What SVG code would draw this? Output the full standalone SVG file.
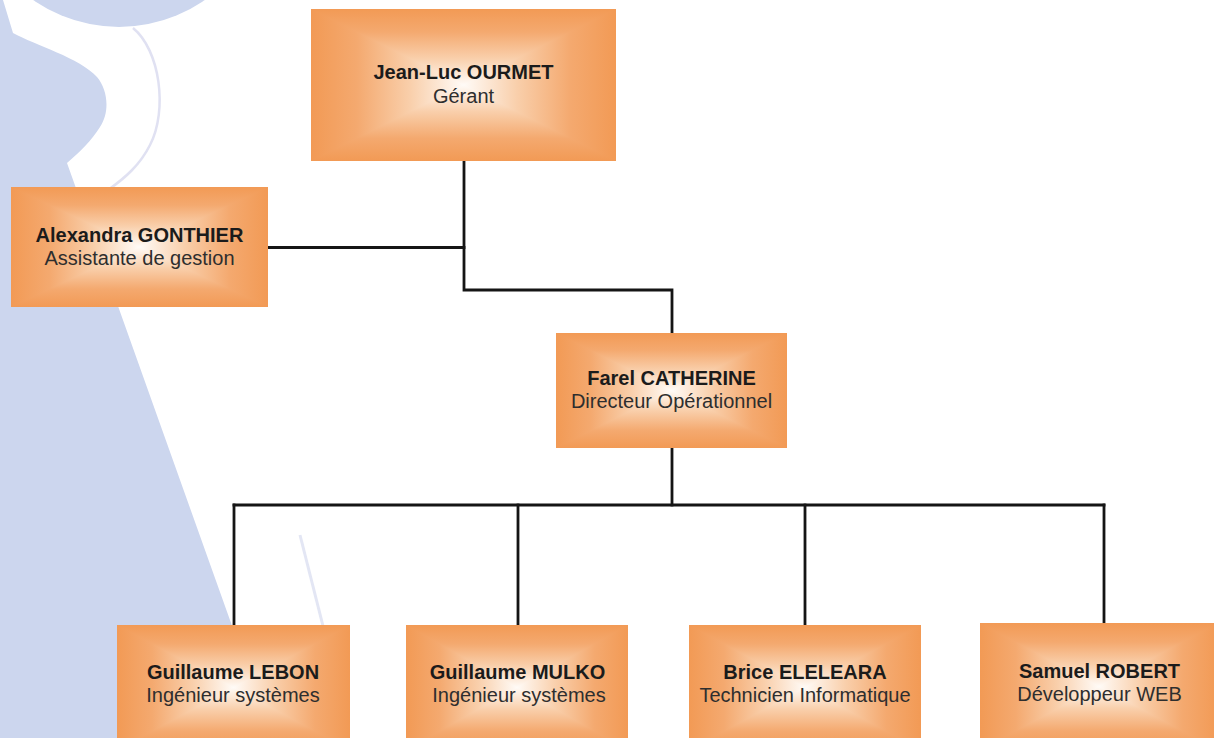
<svg xmlns="http://www.w3.org/2000/svg" xmlns:xlink="http://www.w3.org/1999/xlink" width="1214" height="738" viewBox="0 0 1214 738">
<style>
.name{font-family:"Liberation Sans",Arial,sans-serif;font-size:20px;font-weight:bold;fill:#1b1b1b;text-anchor:middle}
.role{font-family:"Liberation Sans",Arial,sans-serif;font-size:20px;fill:#2e2e2e;text-anchor:middle}
.link{fill:none;stroke:#151515;stroke-width:2.8;stroke-linejoin:miter;stroke-linecap:square}
.tri{shape-rendering:crispEdges}
</style>
<defs>
<linearGradient id="gT" x1="0" y1="0" x2="0" y2="1">
<stop offset="0" stop-color="#f29a55"/><stop offset="0.3" stop-color="#f4a96f"/><stop offset="0.65" stop-color="#f9cfab"/><stop offset="1" stop-color="#fffbf7"/>
</linearGradient>
<linearGradient id="gB" x1="0" y1="1" x2="0" y2="0">
<stop offset="0" stop-color="#f29a55"/><stop offset="0.3" stop-color="#f4a96f"/><stop offset="0.65" stop-color="#f9cfab"/><stop offset="1" stop-color="#fffbf7"/>
</linearGradient>
<linearGradient id="gL" x1="0" y1="0" x2="1" y2="0">
<stop offset="0" stop-color="#f29a55"/><stop offset="0.3" stop-color="#f4a96f"/><stop offset="0.65" stop-color="#f9cfab"/><stop offset="1" stop-color="#fffbf7"/>
</linearGradient>
<linearGradient id="gR" x1="1" y1="0" x2="0" y2="0">
<stop offset="0" stop-color="#f29a55"/><stop offset="0.3" stop-color="#f4a96f"/><stop offset="0.65" stop-color="#f9cfab"/><stop offset="1" stop-color="#fffbf7"/>
</linearGradient>
<symbol id="box" viewBox="0 0 100 100" preserveAspectRatio="none">
<rect x="0" y="0" width="100" height="100" fill="#f6b27f"/>
<polygon class="tri" points="0,0 100,0 50,50" fill="url(#gT)"/>
<polygon class="tri" points="0,100 100,100 50,50" fill="url(#gB)"/>
<polygon class="tri" points="0,0 0,100 50,50" fill="url(#gL)"/>
<polygon class="tri" points="100,0 100,100 50,50" fill="url(#gR)"/>
</symbol>
</defs>
<rect x="0" y="0" width="1214" height="738" fill="#ffffff"/>
<g id="background">
<circle cx="119" cy="-123" r="150" fill="#ccd6ee"/>
<path d="M0,0 L3,0 L13,33 C35,45 80,58 97,77 C108,90 110,112 100,127 C92,140 80,152 67,163 L272,738 L0,738 Z" fill="#ccd6ee"/>
<path d="M133,28 C160,50 168,110 150,145 C140,165 125,178 108,190" fill="none" stroke="#e0e1f2" stroke-width="2.5"/>
<line x1="300" y1="535" x2="323" y2="626" stroke="#e3e6f4" stroke-width="3"/>
</g>
<g id="connectors">
<path class="link" d="M464,161 V290 H672 V333"/>
<path class="link" d="M268,247.5 H464"/>
<path class="link" d="M672,448 V505"/>
<path class="link" d="M234,505 H1104"/>
<path class="link" d="M234,505 V625"/>
<path class="link" d="M518,505 V625"/>
<path class="link" d="M805,505 V625"/>
<path class="link" d="M1104,505 V623"/>
</g>
<g id="node-ourmet">
<use xlink:href="#box" href="#box" x="311" y="9" width="305" height="152"/>
<text class="name" x="463.5" y="79">Jean-Luc OURMET</text>
<text class="role" x="463.5" y="103">Gérant</text>
</g>
<g id="node-gonthier">
<use xlink:href="#box" href="#box" x="11" y="187" width="257" height="120"/>
<text class="name" x="139.5" y="241.5">Alexandra GONTHIER</text>
<text class="role" x="139.5" y="265">Assistante de gestion</text>
</g>
<g id="node-catherine">
<use xlink:href="#box" href="#box" x="556" y="333" width="231" height="115"/>
<text class="name" x="671.5" y="385">Farel CATHERINE</text>
<text class="role" x="671.5" y="408">Directeur Opérationnel</text>
</g>
<g id="node-lebon">
<use xlink:href="#box" href="#box" x="117" y="625" width="233" height="125"/>
<text class="name" x="233" y="679">Guillaume LEBON</text>
<text class="role" x="233" y="701.5">Ingénieur systèmes</text>
</g>
<g id="node-mulko">
<use xlink:href="#box" href="#box" x="406" y="625" width="222" height="125"/>
<text class="name" x="517.5" y="679">Guillaume MULKO</text>
<text class="role" x="519" y="701.5">Ingénieur systèmes</text>
</g>
<g id="node-eleleara">
<use xlink:href="#box" href="#box" x="689" y="625" width="232" height="125"/>
<text class="name" x="805" y="679">Brice ELELEARA</text>
<text class="role" x="805" y="701.5">Technicien Informatique</text>
</g>
<g id="node-robert">
<use xlink:href="#box" href="#box" x="980" y="623" width="238" height="127"/>
<text class="name" x="1099.5" y="678">Samuel ROBERT</text>
<text class="role" x="1099.5" y="700.5">Développeur WEB</text>
</g>
</svg>
